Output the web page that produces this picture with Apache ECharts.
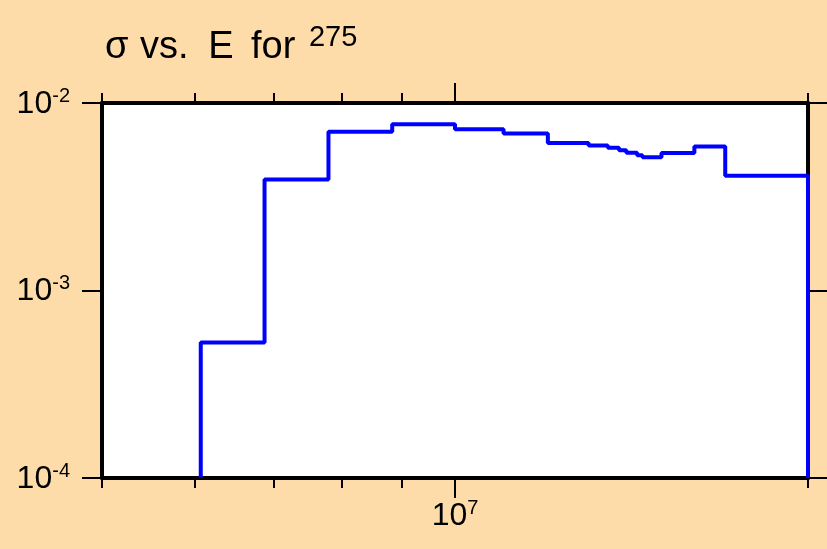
<!DOCTYPE html>
<html>
<head>
<meta charset="utf-8">
<script src="https://cdn.jsdelivr.net/npm/echarts@6/dist/echarts.min.js"></script>
<style>
html,body{margin:0;padding:0;background:#fddcaa;}
#c{width:827px;height:549px;}
</style>
</head>
<body>
<div id="c"></div>
<script>
// Bin edges (energy, eV) and cross-section per bin
const binEdges = [6.07e6, 6.88e6, 7.8e6, 8.84e6, 1.0e7, 1.1e7, 1.2e7, 1.3e7, 1.35e7, 1.38e7, 1.40e7, 1.43e7, 1.445e7, 1.5e7, 1.6e7, 1.7e7, 2.0e7];
const sigma = [5.28e-4, 3.91e-3, 7.02e-3, 7.70e-3, 7.25e-3, 6.88e-3, 6.12e-3, 5.93e-3, 5.78e-3, 5.59e-3, 5.43e-3, 5.26e-3, 5.13e-3, 5.41e-3, 5.86e-3, 4.09e-3];
const xMinorTicks = [5e6, 6e6, 7e6, 8e6, 9e6, 2e7];
const xMajorTicks = [1e7];
const yTicks = [1e-4, 1e-3, 1e-2];
const xRange = [5e6, 2e7];
const yRange = [1e-4, 1e-2];
const titleWords = ['σ', 'vs.', 'E', 'for'];
const titleSup = '275';

const data = [[binEdges[0], yRange[0]]];
for (let i = 0; i < sigma.length; i++) data.push([binEdges[i], sigma[i]]);
data.push([binEdges[binEdges.length - 1], yRange[0]]);

const FONT = 'Liberation Sans';
function expLabel(v) {
  const e = Math.round(Math.log10(v));
  return '{n|10}{s|' + e + '}';
}
const richY = {
  n: {fontSize: 32, fontFamily: FONT, color: '#000', lineHeight: 34, verticalAlign: 'bottom'},
  s: {fontSize: 20, fontFamily: FONT, color: '#000', lineHeight: 8, verticalAlign: 'top'}
};
const richX = {
  n: {fontSize: 32, fontFamily: FONT, color: '#000', lineHeight: 34, verticalAlign: 'bottom'},
  s: {fontSize: 20, fontFamily: FONT, color: '#000', lineHeight: 14, verticalAlign: 'top'}
};
const lineStyle = {color: '#000', width: 4};
const tickStyle = {color: '#000', width: 2};

function xAxis(pos, ticks, len, showLine, showLabel) {
  return {
    type: 'log', position: pos, min: xRange[0], max: xRange[1], logBase: 10,
    axisLine: {show: showLine, onZero: false, lineStyle: lineStyle},
    axisTick: {show: true, length: len, lineStyle: tickStyle, customValues: ticks},
    axisLabel: {show: showLabel, customValues: ticks, formatter: expLabel, rich: richX, margin: 20},
    splitLine: {show: false}, minorTick: {show: false}
  };
}
function yAxis(pos, showLabel) {
  return {
    type: 'log', position: pos, min: yRange[0], max: yRange[1], logBase: 10,
    axisLine: {show: true, onZero: false, lineStyle: lineStyle},
    axisTick: {show: true, length: 20, lineStyle: tickStyle, customValues: yTicks},
    axisLabel: {show: showLabel, customValues: yTicks, formatter: expLabel, rich: richY, margin: 32},
    splitLine: {show: false}
  };
}

const wordBase = {fontSize: 38, fontFamily: FONT, fontWeight: 'normal', color: '#000', lineHeight: 44, verticalAlign: 'bottom'};
const wordPads = [1, 9, 7, 3];
const titleRich = {sup: {fontSize: 29, fontFamily: FONT, fontWeight: 'normal', color: '#000', lineHeight: 20, verticalAlign: 'top'}};
let titleText = '';
titleWords.forEach(function (w, i) {
  titleRich['w' + i] = Object.assign({}, wordBase, {padding: [0, wordPads[i], 0, 0]});
  titleText += '{w' + i + '|' + w + ' }';
});
titleText += '{sup|' + titleSup + '}';

const chart = echarts.init(document.getElementById('c'), null, {renderer: 'canvas'});
chart.setOption({
  backgroundColor: '#fddcaa',
  animation: false,
  title: {
    text: titleText,
    left: 105, top: 23, padding: 0,
    textStyle: {fontWeight: 'normal', rich: titleRich}
  },
  grid: {left: 102, right: 19, top: 103, bottom: 71, show: true, backgroundColor: '#fff', borderWidth: 0},
  xAxis: [
    xAxis('bottom', xMinorTicks, 10, true, false),
    xAxis('bottom', xMajorTicks, 20, false, true),
    xAxis('top', xMinorTicks, 10, true, false),
    xAxis('top', xMajorTicks, 20, false, false)
  ],
  yAxis: [yAxis('left', true), yAxis('right', false)],
  series: [{
    type: 'line', xAxisIndex: 0, yAxisIndex: 0, step: 'end', data: data,
    showSymbol: false, symbol: 'none',
    lineStyle: {color: '#0000ff', width: 4}
  }]
});
</script>
</body>
</html>
